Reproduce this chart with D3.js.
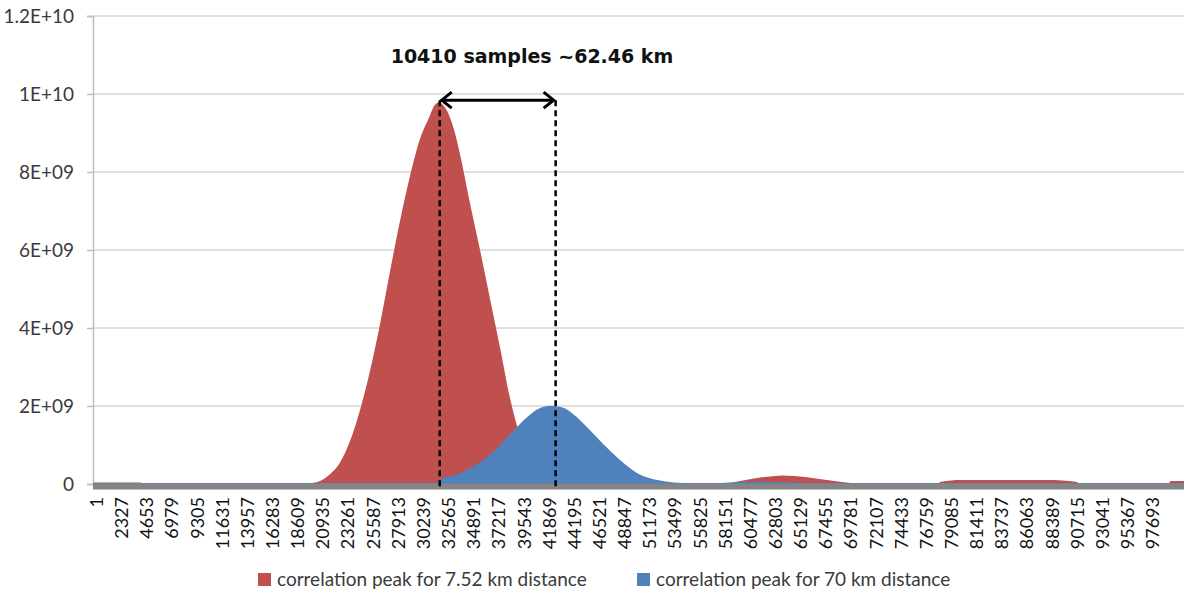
<!DOCTYPE html>
<html>
<head>
<meta charset="utf-8">
<script src="https://cdn.jsdelivr.net/npm/d3@7"></script>
<style>
  html, body { margin: 0; padding: 0; background: #fff; }
  svg { display: block; }
</style>
</head>
<body>
<svg id="chart" width="1184" height="594"></svg>
<script>
// ---- Data ----
const xTickLabels = ["1","2327","4653","6979","9305","11631","13957","16283","18609","20935","23261","25587","27913","30239","32565","34891","37217","39543","41869","44195","46521","48847","51173","53499","55825","58151","60477","62803","65129","67455","69781","72107","74433","76759","79085","81411","83737","86063","88389","90715","93041","95367","97693"];
const yTicks = [0, 2e9, 4e9, 6e9, 8e9, 1e10, 1.2e10];
const yTickLabels = ["0","2E+09","4E+09","6E+09","8E+09","1E+10","1.2E+10"];

// sample index positions (x) and values for the 7.52 km series
const redSamples = [-370, 4000, 4300, 19000, 19700, 20630, 21550, 22480, 23400, 24330, 25250, 26180, 27100, 28030, 28950, 29880, 30800, 31170, 31630, 32095, 32650, 33110, 33580, 34500, 35430, 36350, 37280, 38200, 39120, 40050, 40970, 41900, 43290, 45600, 50000, 53000, 54000, 57600, 59500, 61500, 63500, 65500, 67500, 69900, 71000, 77700, 78000, 80000, 87900, 90600, 90900, 99100, 99300, 100600];
const redValues  = [0.04e9, 0.04e9, 0, 0, 0.02e9, 0.08e9, 0.25e9, 0.55e9, 1.1e9, 1.9e9, 2.9e9, 4.1e9, 5.45e9, 6.75e9, 7.9e9, 8.85e9, 9.45e9, 9.69e9, 9.79e9, 9.69e9, 9.4e9, 9.0e9, 8.45e9, 7.2e9, 6.0e9, 4.75e9, 3.5e9, 2.2e9, 1.25e9, 0.68e9, 0.33e9, 0.14e9, 0.04e9, 0.02e9, 0.02e9, 0.01e9, 0, 0, 0.08e9, 0.17e9, 0.22e9, 0.18e9, 0.1e9, 0.02e9, 0, 0, 0.05e9, 0.1e9, 0.1e9, 0.05e9, 0, 0, 0.08e9, 0.08e9];

// sample index positions (x) and values for the 70 km series
const blueSamples = [-370, 31300, 31700, 32000, 33200, 34700, 36300, 37900, 38850, 39800, 41000, 41900, 43200, 44000, 45600, 47200, 48700, 50300, 51850, 53350, 55000, 57600, 59500, 61500, 63500, 65500, 68000, 100600];
const blueValues  = [0.025e9, 0.025e9, 0.1e9, 0.15e9, 0.23e9, 0.44e9, 0.74e9, 1.18e9, 1.46e9, 1.72e9, 1.95e9, 2.0e9, 1.95e9, 1.8e9, 1.38e9, 0.92e9, 0.54e9, 0.23e9, 0.1e9, 0.04e9, 0.025e9, 0.025e9, 0.05e9, 0.06e9, 0.05e9, 0.03e9, 0.025e9, 0.025e9];

const seriesNames = ["correlation peak for 7.52 km distance", "correlation peak for 70 km distance"];
const annotationSamples = [31700, 42420];
const annotationValue = 9.79e9;
const annotationText = "10410 samples ~62.46 km";

// ---- Chart ----
const svg = d3.select("#chart");
const pLeft = 93, pRight = 1184, pTop = 16, pBottom = 484;
const colors = ["#C0504D", "#4F81BD"];
const labelFont = "Lato, 'Open Sans', sans-serif";

const x = d3.scaleLinear().domain([-370, 100540]).range([pLeft, pRight]);
const y = d3.scaleLinear().domain([0, 1.2e10]).range([pBottom, pTop]);

// gridlines
svg.append("g").selectAll("line").data(yTicks.slice(1)).join("line")
  .attr("x1", pLeft).attr("x2", pRight)
  .attr("y1", d => y(d)).attr("y2", d => y(d))
  .attr("stroke", "#d4d4d4").attr("stroke-width", 1.5);

// y axis
const yAxis = d3.axisLeft(y).tickValues(yTicks)
  .tickFormat((d, i) => yTickLabels[i]).tickSize(6).tickPadding(13);
const gy = svg.append("g").attr("transform", `translate(${pLeft},0)`).call(yAxis);
gy.select(".domain").attr("stroke", "#bdbdbd").attr("stroke-width", 1.5);
gy.selectAll(".tick line").attr("stroke", "#bdbdbd").attr("stroke-width", 1.5);
gy.selectAll(".tick text").attr("font-family", labelFont)
  .attr("font-size", 19).attr("fill", "#3a3a3a");

// areas
const area = d3.area().curve(d3.curveMonotoneX)
  .x(d => x(d[0])).y0(y(0)).y1(d => y(d[1]));
const redData = redSamples.map((s, i) => [s, redValues[i]]);
const blueData = blueSamples.map((s, i) => [s, blueValues[i]]);
svg.append("path").datum(redData).attr("d", area).attr("fill", colors[0]);
svg.append("path").datum(blueData).attr("d", area).attr("fill", colors[1]);

// x axis (thick gray band)
svg.append("rect").attr("x", pLeft).attr("y", pBottom - 0.5)
  .attr("width", pRight - pLeft).attr("height", 6).attr("fill", "#858585");

// x tick labels
const xTickSamples = xTickLabels.map(t => +t);
const gx = svg.append("g");
gx.selectAll("text").data(xTickSamples).join("text")
  .attr("transform", d => `translate(${x(d) + 6},${pBottom + 13}) rotate(-90)`)
  .attr("text-anchor", "end")
  .attr("font-family", labelFont)
  .attr("font-size", 18).attr("fill", "#111")
  .text((d, i) => xTickLabels[i]);

// dashed lines
annotationSamples.forEach(s => {
  svg.append("line").attr("x1", x(s)).attr("x2", x(s))
    .attr("y1", y(annotationValue) - 2).attr("y2", pBottom + 5)
    .attr("stroke", "#000").attr("stroke-width", 2.5).attr("stroke-dasharray", "6,4");
});

// double arrow
const ay = y(annotationValue) - 2;
const ax1 = x(annotationSamples[0]), ax2 = x(annotationSamples[1]);
svg.append("line").attr("x1", ax1 + 2).attr("x2", ax2 - 2).attr("y1", ay).attr("y2", ay)
  .attr("stroke", "#000").attr("stroke-width", 3);
svg.append("path").attr("d", `M${ax1 + 12},${ay - 8} L${ax1 + 2},${ay} L${ax1 + 12},${ay + 8}`)
  .attr("fill", "none").attr("stroke", "#000").attr("stroke-width", 3);
svg.append("path").attr("d", `M${ax2 - 12},${ay - 8} L${ax2 - 2},${ay} L${ax2 - 12},${ay + 8}`)
  .attr("fill", "none").attr("stroke", "#000").attr("stroke-width", 3);

svg.append("text").attr("x", 532).attr("y", 63).attr("text-anchor", "middle")
  .attr("font-family", "'DejaVu Sans', Verdana, sans-serif").attr("font-weight", "bold")
  .attr("font-size", 19).attr("fill", "#111").text(annotationText);

// legend
const legendX = [258, 637];
seriesNames.forEach((name, i) => {
  svg.append("rect").attr("x", legendX[i]).attr("y", 573).attr("width", 13).attr("height", 13)
    .attr("fill", colors[i]);
  svg.append("text").attr("x", legendX[i] + 19).attr("y", 586)
    .attr("font-family", labelFont).attr("font-size", 19)
    .attr("fill", "#3a3a3a").text(name);
});
</script>
</body>
</html>
